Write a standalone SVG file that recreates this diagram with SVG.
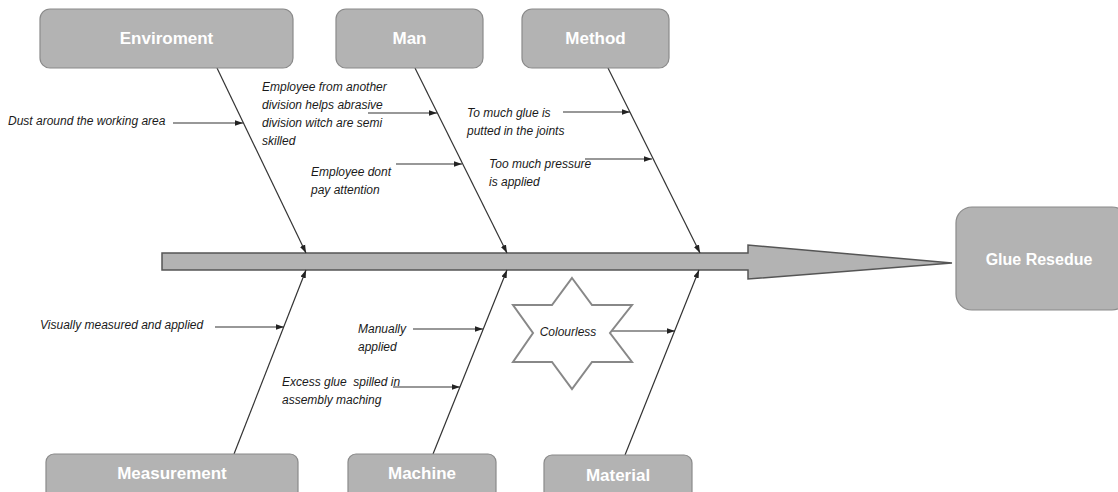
<svg xmlns="http://www.w3.org/2000/svg" width="1118" height="492" viewBox="0 0 1118 492">
<style>
.box{fill:#b3b3b3;stroke:#8a8a8a;stroke-width:1.2}
.lbl{font-family:"Liberation Sans",Arial,sans-serif;font-weight:bold;font-size:17px;fill:#ffffff;text-anchor:middle}
.t{font-family:"Liberation Sans",Arial,sans-serif;font-style:italic;font-size:12px;fill:#1a1a1a}
.bone{stroke:#333;stroke-width:1.2;fill:none}
.sub{stroke:#333;stroke-width:1.2;fill:none}
</style>
<defs>
<marker id="ah" viewBox="0 0 10 10" refX="10" refY="5" markerWidth="8" markerHeight="8" markerUnits="userSpaceOnUse" orient="auto">
<path d="M0,1.5 L10,5 L0,8.5 Z" fill="#222"/>
</marker>
</defs>
<rect width="1118" height="492" fill="#ffffff"/>

<g id="spine">
<path d="M162,253 L748,253 L748,245 L952,263 L748,279 L748,270 L162,270 Z" fill="#b3b3b3" stroke="#555" stroke-width="1.5"/>
</g>

<g id="connectors">
<line class="bone" x1="217" y1="68" x2="306" y2="253" marker-end="url(#ah)"/>
<line class="bone" x1="415" y1="68" x2="507" y2="253" marker-end="url(#ah)"/>
<line class="bone" x1="608" y1="68" x2="700" y2="253" marker-end="url(#ah)"/>
<line class="bone" x1="234" y1="454" x2="306" y2="270" marker-end="url(#ah)"/>
<line class="bone" x1="433" y1="454" x2="507" y2="270" marker-end="url(#ah)"/>
<line class="bone" x1="625" y1="455" x2="699" y2="270" marker-end="url(#ah)"/>
<line class="sub" x1="173" y1="123" x2="243" y2="123" marker-end="url(#ah)"/>
<line class="sub" x1="368" y1="113" x2="437" y2="113" marker-end="url(#ah)"/>
<line class="sub" x1="396" y1="164" x2="462" y2="164" marker-end="url(#ah)"/>
<line class="sub" x1="563" y1="112" x2="630" y2="112" marker-end="url(#ah)"/>
<line class="sub" x1="585" y1="159" x2="652" y2="159" marker-end="url(#ah)"/>
<line class="sub" x1="215" y1="327" x2="284" y2="327" marker-end="url(#ah)"/>
<line class="sub" x1="413" y1="329" x2="483" y2="329" marker-end="url(#ah)"/>
<line class="sub" x1="393" y1="387" x2="460" y2="387" marker-end="url(#ah)"/>
<line class="sub" x1="608" y1="331" x2="675" y2="331" marker-end="url(#ah)"/>
</g>

<g id="enviroment"><rect class="box" x="40" y="9" width="253" height="59" rx="10"/><text class="lbl" x="166.5" y="44">Enviroment</text></g>
<g id="man"><rect class="box" x="336" y="9" width="147" height="59" rx="10"/><text class="lbl" x="409.5" y="44">Man</text></g>
<g id="method"><rect class="box" x="522" y="9" width="147" height="59" rx="10"/><text class="lbl" x="595.5" y="44">Method</text></g>
<g id="measurement"><rect class="box" x="46" y="454" width="252" height="60" rx="8"/><text class="lbl" x="172" y="479">Measurement</text></g>
<g id="machine"><rect class="box" x="348" y="454" width="148" height="60" rx="8"/><text class="lbl" x="422" y="479">Machine</text></g>
<g id="material"><rect class="box" x="544" y="455" width="148" height="60" rx="8"/><text class="lbl" x="618" y="481">Material</text></g>
<g id="glue-resedue"><rect class="box" x="956" y="207" width="172" height="103" rx="16" stroke="#555"/><text class="lbl" x="1039" y="265" style="font-size:16px">Glue Resedue</text></g>

<g id="colourless">
<polygon points="572,278 592,305 632,305 610,333 632,362 592,362 572,389 552,362 513,362 533,333 513,305 552,305" fill="#ffffff" stroke="#888" stroke-width="2"/>
<text class="t" x="568" y="336" text-anchor="middle">Colourless</text>
</g>

<g id="causes">
<text class="t" x="8" y="125">Dust around the working area</text>
<text class="t" x="262" y="91">Employee from another</text>
<text class="t" x="262" y="109">division helps abrasive</text>
<text class="t" x="262" y="127">division witch are semi</text>
<text class="t" x="262" y="145">skilled</text>
<text class="t" x="311" y="176">Employee dont</text>
<text class="t" x="311" y="194">pay attention</text>
<text class="t" x="467" y="117">To much glue is</text>
<text class="t" x="467" y="135">putted in the joints</text>
<text class="t" x="489" y="168">Too much pressure</text>
<text class="t" x="489" y="186">is applied</text>
<text class="t" x="40" y="329">Visually measured and applied</text>
<text class="t" x="358" y="333">Manually</text>
<text class="t" x="358" y="351">applied</text>
<text class="t" x="282" y="386" xml:space="preserve">Excess glue  spilled in</text>
<text class="t" x="282" y="404">assembly maching</text>
</g>
</svg>
